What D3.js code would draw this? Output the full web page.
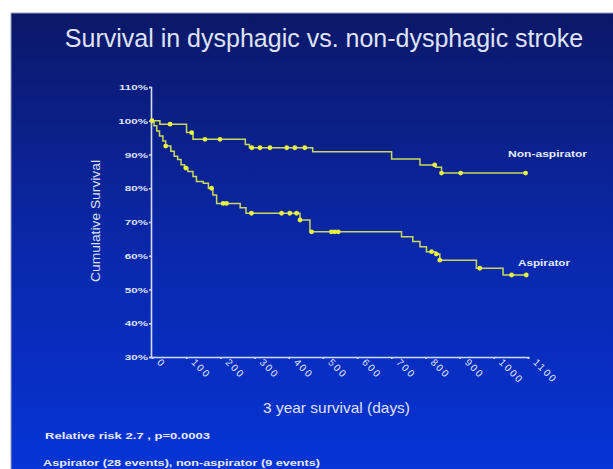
<!DOCTYPE html>
<html>
<head>
<meta charset="utf-8">
<script src="https://cdn.jsdelivr.net/npm/d3@7"></script>
<style>
  body { margin: 0; background: #fff; }
  svg { display: block; font-family: "Liberation Sans", Arial, sans-serif; }
</style>
</head>
<body>
<svg id="chart" width="613" height="469"></svg>
<script>
// data
var xTicks = [0, 100, 200, 300, 400, 500, 600, 700, 800, 900, 1000, 1100];
var yTicks = [30, 40, 50, 60, 70, 80, 90, 100, 110];

// [day, survival %] after each step
var nonAspSteps = [[0, 100], [23, 99], [101, 96.5], [120, 94.5], [273, 93], [285, 92],
    [470, 90.8], [701, 88.7], [784, 86.9], [830, 86.2], [847, 84.5], [1095, 84.5]];
var nonAspCensor = [53, 116, 155, 199, 292, 316, 345, 394, 418, 447, 827, 847, 903, 1093];

var aspSteps = [[0, 100], [6, 98.5], [14, 97], [22, 95.5], [32, 94], [40, 92.5], [55, 91],
    [65, 89.5], [75, 88.5], [85, 87], [95, 86], [105, 85], [120, 83.5], [130, 82], [150, 81.5],
    [165, 80], [178, 78], [189, 75.5], [258, 74.2], [275, 72.6], [433, 70.6], [462, 67.1],
    [730, 65.6], [763, 64.2], [784, 62.7], [803, 61.2], [830, 60.5], [842, 58.7], [949, 56.3],
    [1027, 54.3], [1095, 54.3]];
var aspCensor = [0, 40, 99, 174, 208, 218, 291, 379, 403, 423, 433, 467, 525, 535, 545,
    818, 832, 842, 959, 1052, 1095];

var svg = d3.select('#chart');

// фон слайда
var defs = svg.append('defs');
var grad = defs.append('linearGradient')
    .attr('id', 'bg')
    .attr('x1', 0).attr('y1', 0).attr('x2', 0).attr('y2', 1);
grad.append('stop').attr('offset', '0%').attr('stop-color', '#0b1868');
grad.append('stop').attr('offset', '50%').attr('stop-color', '#0a27a8');
grad.append('stop').attr('offset', '100%').attr('stop-color', '#0634d6');

svg.append('rect')
    .attr('x', 11).attr('y', 13)
    .attr('width', 602).attr('height', 456)
    .attr('fill', 'url(#bg)');

svg.append('line')
    .attr('x1', 11).attr('y1', 13).attr('x2', 613).attr('y2', 13)
    .attr('stroke', '#9aa0b8').attr('stroke-width', 1);
svg.append('line')
    .attr('x1', 11).attr('y1', 13).attr('x2', 11).attr('y2', 469)
    .attr('stroke', '#9aa0b8').attr('stroke-width', 1);

svg.append('text')
    .attr('x', 324).attr('y', 47)
    .attr('text-anchor', 'middle')
    .attr('fill', '#dfe3f2')
    .attr('font-size', 25)
    .text('Survival in dysphagic vs. non-dysphagic stroke');

var x = d3.scaleLinear().domain([0, 1100]).range([152, 528]);
var y = d3.scaleLinear().domain([30, 110]).range([357, 87]);

var axisColor = '#d4dbf6';
var stretch = 1.45; // текст на слайде растянут по горизонтали

// ось Y
var yAxis = d3.axisLeft(y)
    .tickValues(yTicks)
    .tickSize(2)
    .tickFormat(function (d) { return d + '%'; });

var gy = svg.append('g')
    .attr('transform', 'translate(151,0)')
    .call(yAxis);
gy.select('.domain').attr('stroke', axisColor).attr('stroke-width', 1.6);
gy.selectAll('.tick line').attr('stroke', axisColor).attr('stroke-width', 1.6);
gy.selectAll('.tick text')
    .attr('fill', '#dfe4f6')
    .attr('font-size', 8)
    .attr('font-weight', 'bold')
    .attr('font-family', '"Liberation Sans", Arial, sans-serif')
    .attr('x', -3 / stretch)
    .attr('transform', 'scale(' + stretch + ',1)');

// ось X
var xAxis = d3.axisBottom(x)
    .tickValues(xTicks)
    .tickSize(2)
    .tickFormat(d3.format('d'));

var gx = svg.append('g')
    .attr('transform', 'translate(0,357)')
    .call(xAxis);
gx.select('.domain').attr('stroke', axisColor).attr('stroke-width', 1.6);
gx.selectAll('.tick line').attr('stroke', axisColor).attr('stroke-width', 1.6);
gx.selectAll('.tick text')
    .attr('fill', '#dfe4f6')
    .attr('font-size', 10)
    .attr('letter-spacing', 2)
    .attr('font-family', '"Liberation Sans", Arial, sans-serif')
    .attr('text-anchor', 'start')
    .attr('dy', null)
    .attr('y', 0)
    .attr('transform', 'translate(4,6) rotate(45)');

// подписи осей
svg.append('text')
    .attr('transform', 'translate(100,221) rotate(-90)')
    .attr('text-anchor', 'middle')
    .attr('fill', '#dfe3f2')
    .attr('font-size', 13)
    .attr('textLength', 122)
    .attr('lengthAdjust', 'spacingAndGlyphs')
    .text('Cumulative Survival');

svg.append('text')
    .attr('x', 263).attr('y', 413)
    .attr('fill', '#dfe3f2')
    .attr('font-size', 15)
    .attr('textLength', 147)
    .attr('lengthAdjust', 'spacingAndGlyphs')
    .text('3 year survival (days)');

// кривые выживаемости
var line = d3.line()
    .x(function (d) { return x(d[0]); })
    .y(function (d) { return y(d[1]); })
    .curve(d3.curveStepAfter);

function valueAt(steps, day) {
    var v = steps[0][1];
    steps.forEach(function (s) { if (s[0] <= day) v = s[1]; });
    return v;
}

function drawCurve(steps, censor) {
    svg.append('path')
        .datum(steps)
        .attr('d', line)
        .attr('fill', 'none')
        .attr('stroke', '#cad85a')
        .attr('stroke-width', 1.5);

    svg.append('g')
        .selectAll('circle')
        .data(censor)
        .enter()
        .append('circle')
        .attr('cx', function (d) { return x(d); })
        .attr('cy', function (d) { return y(valueAt(steps, d)); })
        .attr('r', 2.4)
        .attr('fill', '#e8f040');
}

drawCurve(nonAspSteps, nonAspCensor);
drawCurve(aspSteps, aspCensor);

function note(tx, ty, len, str) {
    svg.append('text')
        .attr('x', tx).attr('y', ty)
        .attr('fill', '#e6eaf8')
        .attr('font-size', 9)
        .attr('font-weight', 'bold')
        .attr('textLength', len)
        .attr('lengthAdjust', 'spacingAndGlyphs')
        .text(str);
}

note(508, 157, 79, 'Non-aspirator');
note(518, 266, 52, 'Aspirator');

// примечания внизу
note(45, 439, 165, 'Relative risk 2.7 , p=0.0003');
note(43, 466, 277, 'Aspirator (28 events), non-aspirator (9 events)');
</script>
</body>
</html>
